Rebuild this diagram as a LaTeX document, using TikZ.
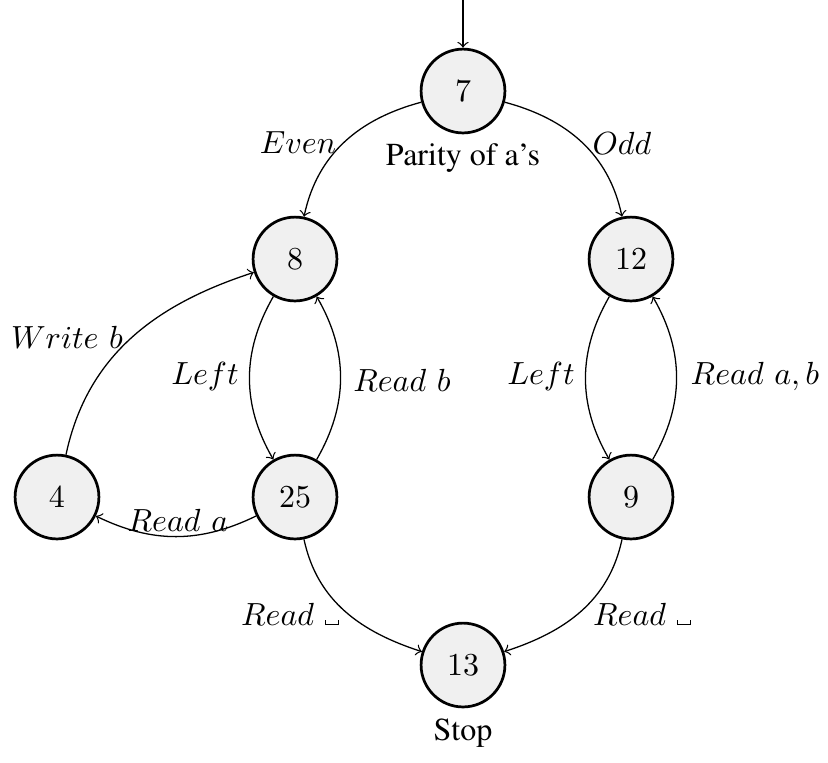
\documentclass[tikz,border=0pt]{standalone}
\usepackage[T1]{fontenc}
\newcommand{\tms}{\fontfamily{ptm}\selectfont}
\newcommand{\vspc}{\rule{0.4pt}{1.6pt}\rule{3.6pt}{0.4pt}\rule{0.4pt}{1.6pt}}
\tikzset{
  state/.style={circle, draw, line width=0.85pt, fill={rgb,255:red,240;green,240;blue,240}, minimum size=26.2pt, inner sep=0pt},
  edge/.style={->, line width=0.4pt},
  lbl/.style={inner sep=0pt}
}
\begin{document}
\begin{tikzpicture}[x=0.3125pt, y=-0.3125pt]
\useasboundingbox (0,0) rectangle (828,762);
\node[state] (s7)  at (463,91)  {$7$};
\node[state] (s8)  at (295,259) {$8$};
\node[state] (s12) at (631,259) {$12$};
\node[state] (s4)  at (57,497)  {$4$};
\node[state] (s25) at (295,497) {$25$};
\node[state] (s9)  at (631,497) {$9$};
\node[state] (s13) at (463,665) {$13$};
\coordinate (start) at (463,0);
\node[lbl] (par) at (463,158) {\tms Parity of a's};
\node[lbl] (stop) at (463,733) {\tms Stop};

\draw[edge] (start) -- (s7);
\draw[edge] (s7) to[out=195, in=78] (s8);
\draw[edge] (s7) to[out=-15, in=102] (s12);
\draw[edge] (s8) to[out=240, in=120] (s25);
\draw[edge] (s25) to[out=60, in=-60] (s8);
\draw[edge] (s12) to[out=240, in=120] (s9);
\draw[edge] (s9) to[out=60, in=-60] (s12);
\draw[edge] (s4) to[out=78, in=198] (s8);
\draw[edge] (s25) to[out=206, in=-26] (s4);
\draw[edge] (s25) to[out=-78, in=162] (s13);
\draw[edge] (s9) to[out=258, in=18] (s13);

\node[lbl] (lEven) at (298,143) {$Even$};
\node[lbl] (lOdd) at (622,143) {$Odd$};
\node[lbl] (lLeft1) at (205,376) {$Left$};
\node[lbl] (lReadb) at (402,380) {$Read\ b$};
\node[lbl] (lLeft2) at (541,376) {$Left$};
\node[lbl] (lReadab) at (755,376) {$Read\ a, b$};
\node[lbl] (lWrite) at (67,337) {$Write\ b$};
\node[lbl] (lReada) at (178,520) {$Read\ a$};
\node[lbl] (lBlank1) at (290,614) {$Read$\ \vspc};
\node[lbl] (lBlank2) at (642,614) {$Read$\ \vspc};
\end{tikzpicture}
\end{document}
